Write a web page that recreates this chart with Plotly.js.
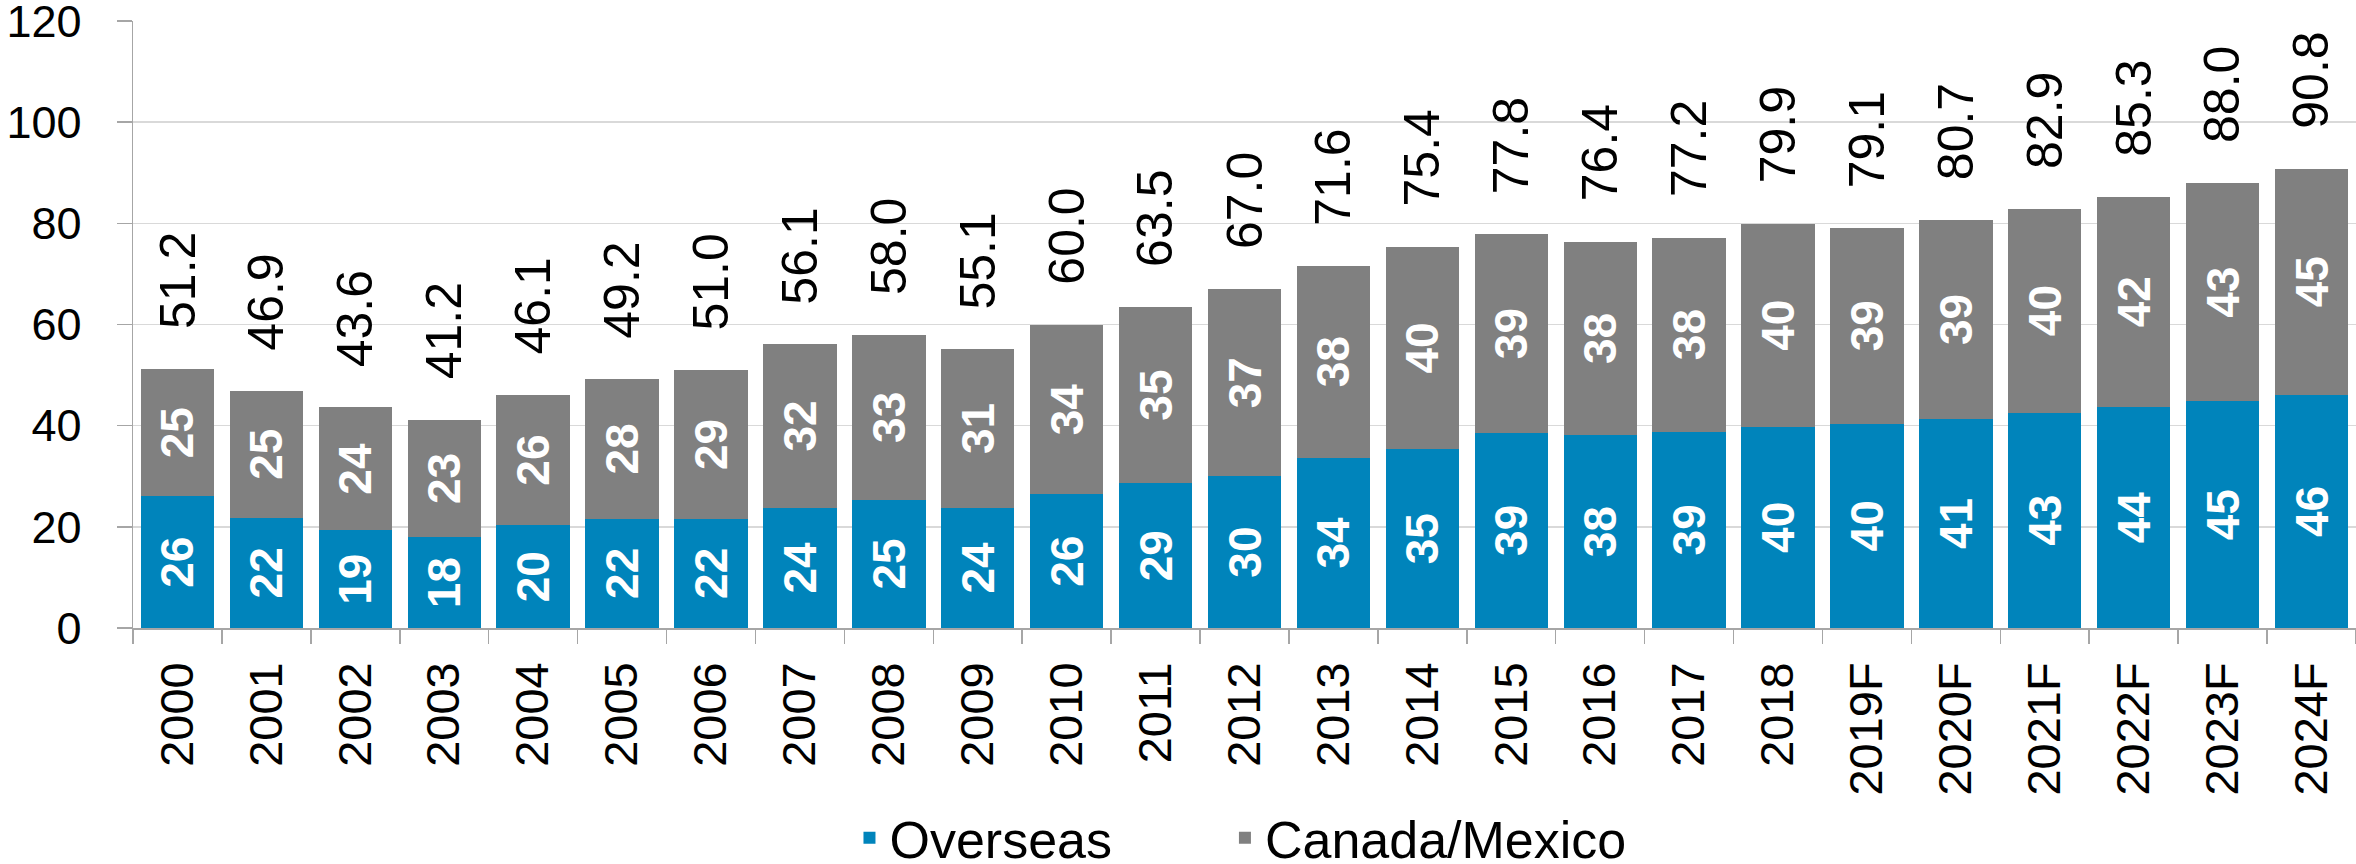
<!DOCTYPE html>
<html>
<head>
<meta charset="utf-8">
<script src="https://cdn.plot.ly/plotly-3.0.1.min.js"></script>
<style>
  html, body { margin: 0; padding: 0; background: #ffffff; }
  #chart { width: 2356px; height: 864px; }
</style>
</head>
<body>
<div id="chart"></div>
<script>
// Categories (years, F = forecast)
const categories = ["2000","2001","2002","2003","2004","2005","2006","2007","2008","2009",
  "2010","2011","2012","2013","2014","2015","2016","2017","2018",
  "2019F","2020F","2021F","2022F","2023F","2024F"];

// Overseas visitors (millions)
const overseas = [26.0, 21.8, 19.3, 17.9, 20.3, 21.6, 21.6, 23.8, 25.3, 23.8,
  26.4, 28.6, 30.0, 33.7, 35.3, 38.6, 38.1, 38.8, 39.8,
  40.4, 41.3, 42.6, 43.7, 44.8, 46.1];

// Canada/Mexico visitors (millions)
const canadaMexico = [25.2, 25.1, 24.3, 23.3, 25.8, 27.6, 29.4, 32.3, 32.7, 31.3,
  33.6, 34.9, 37.0, 37.9, 40.1, 39.2, 38.3, 38.4, 40.1,
  38.7, 39.4, 40.3, 41.6, 43.2, 44.7];

// Totals printed above bars
const totals = [51.2, 46.9, 43.6, 41.2, 46.1, 49.2, 51.0, 56.1, 58.0, 55.1,
  60.0, 63.5, 67.0, 71.6, 75.4, 77.8, 76.4, 77.2, 79.9,
  79.1, 80.7, 82.9, 85.3, 88.0, 90.8];

const yTicks = [0, 20, 40, 60, 80, 100, 120];

const FONT = "Liberation Sans, Arial, Helvetica, sans-serif";
const BLUE = "#0084BB";
const GRAY = "#808080";

const barCommon = {
  type: "bar",
  x: categories,
  texttemplate: "%{y:.0f}",
  textposition: "inside",
  insidetextanchor: "middle",
  textangle: -90,
  insidetextfont: { family: FONT, size: 46, color: "#ffffff", weight: "bold" },
  constraintext: "none",
  hoverinfo: "skip"
};

const traces = [
  Object.assign({}, barCommon, {
    name: "Overseas",
    y: overseas,
    legend: "legend",
    marker: { color: BLUE, line: { width: 0 } }
  }),
  Object.assign({}, barCommon, {
    name: "Canada/Mexico",
    y: canadaMexico,
    legend: "legend2",
    marker: { color: GRAY, line: { width: 0 } }
  })
];

// total labels above each stack (x given as category index)
const annotations = categories.map((c, i) => ({
  x: i,
  y: totals[i],
  xref: "x",
  yref: "y",
  text: totals[i].toFixed(1),
  textangle: -90,
  showarrow: false,
  xanchor: "center",
  yanchor: "bottom",
  yshift: 38,
  font: { family: FONT, size: 50, color: "#000000" }
}));

const legendCommon = {
  orientation: "h",
  xanchor: "left",
  y: -0.346,
  yanchor: "middle",
  font: { family: FONT, size: 52, color: "#000000" },
  bgcolor: "rgba(0,0,0,0)"
};

const layout = {
  width: 2356,
  height: 864,
  paper_bgcolor: "#ffffff",
  plot_bgcolor: "#ffffff",
  margin: { l: 133, r: 0, t: 21, b: 236, autoexpand: false },
  barmode: "stack",
  bargap: 0.175,
  font: { family: FONT, color: "#000000" },
  showlegend: true,
  legend: Object.assign({}, legendCommon, { x: 0.3223 }),
  legend2: Object.assign({}, legendCommon, { x: 0.4912 }),
  xaxis: {
    type: "category",
    categoryorder: "array",
    categoryarray: categories,
    range: [-0.5, categories.length - 0.5],
    autorange: false,
    automargin: false,
    tickangle: -90,
    tickfont: { family: FONT, size: 47, color: "#000000" },
    showline: true,
    linecolor: "#a6a6a6",
    linewidth: 1.5,
    ticks: "outside",
    tickson: "boundaries",
    ticklen: 14,
    tickwidth: 1.5,
    tickcolor: "#a6a6a6",
    ticklabelstandoff: 14,
    showgrid: false,
    zeroline: false,
    fixedrange: true
  },
  yaxis: {
    range: [0, 120],
    autorange: false,
    automargin: false,
    tickvals: yTicks,
    ticktext: yTicks.map(String),
    tickfont: { family: FONT, size: 45, color: "#000000" },
    ticklabeloverflow: "allow",
    showline: true,
    linecolor: "#a6a6a6",
    linewidth: 1.5,
    ticks: "outside",
    ticklen: 15,
    tickwidth: 1.5,
    tickcolor: "#a6a6a6",
    ticklabelstandoff: 26,
    showgrid: true,
    gridcolor: "#d9d9d9",
    gridwidth: 1.5,
    zeroline: false,
    fixedrange: true
  },
  annotations: annotations
};

Plotly.newPlot("chart", traces, layout, { staticPlot: true, displayModeBar: false });
</script>
</body>
</html>
